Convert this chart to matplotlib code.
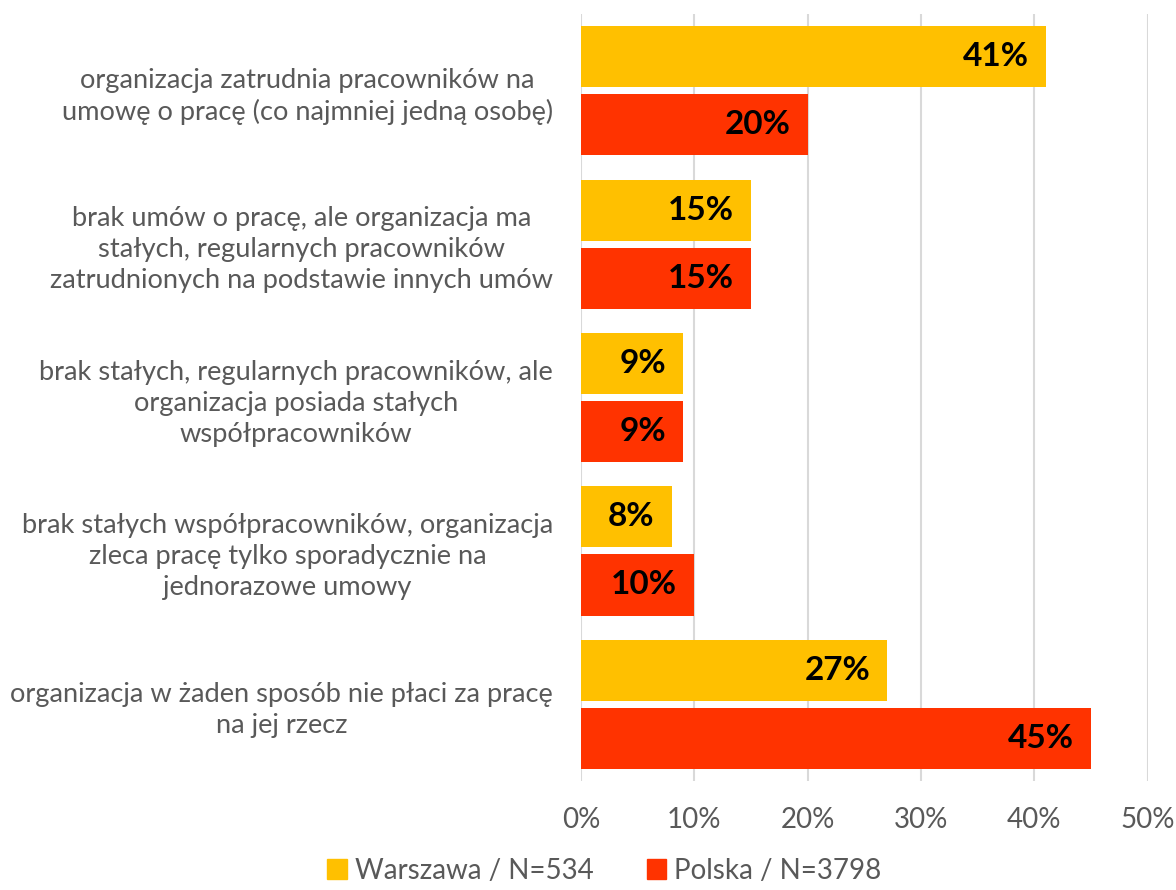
import matplotlib.pyplot as plt
import numpy as np
from matplotlib.patches import Patch

plt.rcParams['font.family'] = ['Lato', 'DejaVu Sans']

categories = [
    "organizacja zatrudnia pracowników na\numowę o pracę (co najmniej jedną osobę)",
    "brak umów o pracę, ale organizacja ma\nstałych, regularnych pracowników\nzatrudnionych na podstawie innych umów",
    "brak stałych, regularnych pracowników, ale\norganizacja posiada stałych\nwspółpracowników",
    "brak stałych współpracowników, organizacja\nzleca pracę tylko sporadycznie na\njednorazowe umowy",
    "organizacja w żaden sposób nie płaci za pracę\nna jej rzecz",
]
warszawa = [41, 15, 9, 8, 27]
polska = [20, 15, 9, 10, 45]
series_names = ["Warszawa / N=534", "Polska / N=3798"]

YELLOW = "#FFC000"
RED = "#FF3300"
GREY = "#595959"

fig = plt.figure(figsize=(11.76, 8.9), dpi=100)
ax = fig.add_axes([0.494, 0.1225, 0.482, 0.8615])

y = np.arange(len(categories))
h = 0.398
off = 0.222

bars1 = ax.barh(y - off, warszawa, height=h, color=YELLOW, zorder=2)
bars2 = ax.barh(y + off, polska, height=h, color=RED, zorder=2)

for bars, vals in [(bars1, warszawa), (bars2, polska)]:
    for b, v in zip(bars, vals):
        ax.text(v - 1.5, b.get_y() + b.get_height() / 2, f"{v}%",
                ha='right', va='center', fontsize=24, fontweight='bold',
                color='black', zorder=3)

ax.set_xlim(0, 50)
ax.set_ylim(4.5, -0.5)
ax.set_xticks(range(0, 51, 10))
ax.set_xticklabels([f"{t}%" for t in range(0, 51, 10)], fontsize=20, color=GREY)
ax.set_yticks(y)
ax.set_yticklabels(categories, fontsize=19.6, color=GREY)
for lbl in ax.get_yticklabels():
    lbl.set_multialignment('center')
    lbl.set_linespacing(1.3)

ax.tick_params(axis='both', length=0)
ax.tick_params(axis='y', pad=20)
ax.tick_params(axis='x', pad=19)
ax.grid(axis='x', color='#d9d9d9', linewidth=1.5, zorder=0)
for s in ax.spines.values():
    s.set_visible(False)

handles = [Patch(color=YELLOW), Patch(color=RED)]
fig.legend(handles, series_names, loc='lower center', ncol=2, frameon=False,
           fontsize=20, labelcolor=GREY, bbox_to_anchor=(0.514, -0.021),
           handlelength=0.7, handleheight=0.7, handletextpad=0.3, columnspacing=1.9)

fig.savefig("out.png", dpi=100)
